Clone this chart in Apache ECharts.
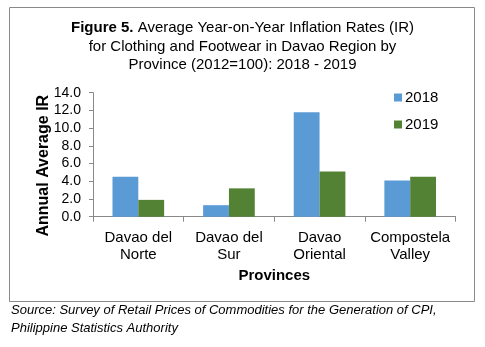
<!DOCTYPE html>
<html>
<head>
<meta charset="utf-8">
<script src="https://cdn.jsdelivr.net/npm/echarts@6/dist/echarts.min.js"></script>
<style>
  html, body { margin: 0; padding: 0; background: #fff; }
  #chart { width: 485px; height: 347px; }
</style>
</head>
<body>
<div id="chart"></div>
<script>
// Provinces of Davao Region and their average year-on-year inflation rates
const provinces = ['Davao del\nNorte', 'Davao del\nSur', 'Davao\nOriental', 'Compostela\nValley'];
const ir2018 = [4.5, 1.3, 11.8, 4.1];
const ir2019 = [1.9, 3.2, 5.1, 4.5];
const yTicks = { min: 0, max: 14, step: 2 };

const FONT = '"Liberation Sans", Arial, sans-serif';

const chart = echarts.init(document.getElementById('chart'), null, { renderer: 'canvas' });

chart.setOption({
  animation: false,
  backgroundColor: '#fff',
  textStyle: { fontFamily: FONT, color: '#000' },
  title: {
    text: '{b|Figure 5.} Average Year-on-Year Inflation Rates (IR)\nfor Clothing and Footwear in Davao Region by\nProvince (2012=100): 2018 - 2019',
    left: 'center',
    top: 14,
    textStyle: {
      fontFamily: FONT,
      fontSize: 15,
      fontWeight: 'normal',
      color: '#000',
      lineHeight: 18.5,
      rich: {
        b: { fontFamily: FONT, fontSize: 15, fontWeight: 'bold', color: '#000', lineHeight: 18.5 }
      }
    }
  },
  legend: {
    orient: 'vertical',
    left: 389,
    top: 85,
    itemWidth: 8,
    itemHeight: 8,
    itemGap: 12,
    icon: 'rect',
    textStyle: { fontFamily: FONT, fontSize: 15, color: '#000', padding: [0, 0, 0, -2] },
    data: ['2018', '2019']
  },
  grid: {
    left: 93,
    right: 29.5,
    top: 92.7,
    bottom: 130.3,
    containLabel: false
  },
  xAxis: {
    type: 'category',
    data: provinces,
    name: 'Provinces',
    nameLocation: 'middle',
    nameGap: 52,
    nameMoveOverlap: false,
    nameTextStyle: { fontFamily: FONT, fontSize: 15, fontWeight: 'bold', color: '#000' },
    axisLine: { lineStyle: { color: '#898989', width: 1 } },
    axisTick: { show: true, length: 5, lineStyle: { color: '#898989' } },
    axisLabel: { interval: 0, fontFamily: FONT, fontSize: 15, color: '#000', lineHeight: 17, margin: 13 }
  },
  yAxis: {
    type: 'value',
    min: yTicks.min,
    max: yTicks.max,
    interval: yTicks.step,
    name: 'Annual Average IR',
    nameLocation: 'middle',
    nameGap: 41,
    nameMoveOverlap: false,
    nameTextStyle: {
      fontFamily: FONT, fontSize: 16, fontWeight: 'bold', color: '#000',
      padding: [0, 22, 0, 0]
    },
    splitLine: { show: false },
    axisLine: { show: true, lineStyle: { color: '#898989', width: 1 } },
    axisTick: { show: true, length: 4, lineStyle: { color: '#898989' } },
    axisLabel: {
      fontFamily: FONT, fontSize: 14, color: '#000', margin: 12,
      formatter: v => v.toFixed(1)
    }
  },
  series: [
    {
      name: '2018',
      type: 'bar',
      data: ir2018,
      itemStyle: { color: '#5B9BD5' },
      barGap: '0%',
      barCategoryGap: '43%'
    },
    {
      name: '2019',
      type: 'bar',
      data: ir2019,
      itemStyle: { color: '#548235' },
      barGap: '0%',
      barCategoryGap: '43%'
    }
  ],
  graphic: [
    {
      type: 'rect',
      shape: { x: 9.5, y: 7.5, width: 465, height: 294 },
      style: { fill: 'none', stroke: '#8a8a8a', lineWidth: 1 },
      silent: true,
      z: -1
    },
    {
      type: 'text',
      left: 11,
      top: 302,
      style: {
        text: 'Source: Survey of Retail Prices of Commodities for the Generation of CPI,\nPhilippine Statistics Authority',
        font: 'italic 13px "Liberation Sans", Arial, sans-serif',
        fill: '#000',
        lineHeight: 17.5
      }
    }
  ]
});
</script>
</body>
</html>
